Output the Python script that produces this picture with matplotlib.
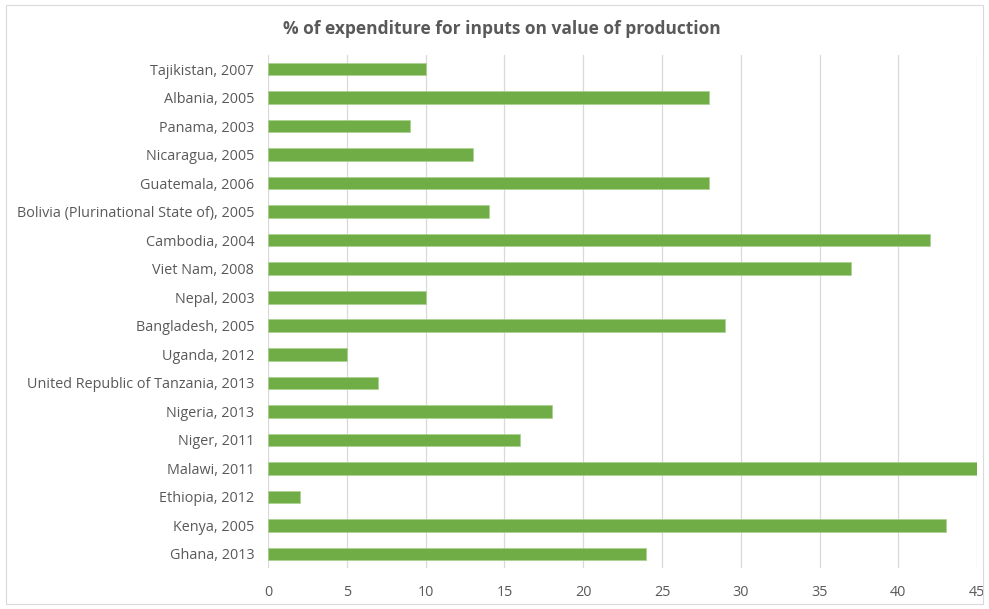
import matplotlib
matplotlib.use("Agg")
import matplotlib.pyplot as plt
from matplotlib.patches import Rectangle

# data, read top to bottom as shown
countries = ['Tajikistan, 2007', 'Albania, 2005', 'Panama, 2003', 'Nicaragua, 2005',
             'Guatemala, 2006', 'Bolivia (Plurinational State of), 2005', 'Cambodia, 2004',
             'Viet Nam, 2008', 'Nepal, 2003', 'Bangladesh, 2005', 'Uganda, 2012',
             'United Republic of Tanzania, 2013', 'Nigeria, 2013', 'Niger, 2011',
             'Malawi, 2011', 'Ethiopia, 2012', 'Kenya, 2005', 'Ghana, 2013']
values = [10, 28, 9, 13, 28, 14, 42, 37, 10, 29, 5, 7, 18, 16, 45, 2, 43, 24]
xticks = [0, 5, 10, 15, 20, 25, 30, 35, 40, 45]

plt.rcParams['font.family'] = ['Open Sans', 'DejaVu Sans']

fig = plt.figure(figsize=(9.89, 6.09), dpi=100)
ax = fig.add_axes([0.271, 0.067, 0.717, 0.843])

ypos = list(range(len(countries)))[::-1]
ax.barh(ypos, values, height=0.44, color='#70AD47', edgecolor='#A9D18E', linewidth=0.5, zorder=3)

ax.set_xlim(0, 45)
ax.set_ylim(-0.5, len(countries) - 0.5)
ax.set_xticks(xticks)
ax.set_yticks(ypos)
ax.set_yticklabels(countries)
ax.tick_params(axis='both', length=0, labelsize=10.4, colors='#595959')
ax.tick_params(axis='x', pad=12)
ax.tick_params(axis='y', pad=10)
ax.grid(axis='x', color='#D9D9D9', linewidth=0.9, zorder=0)
for s in ax.spines.values():
    s.set_visible(False)

fig.text(0.507, 0.952, '% of expenditure for inputs on value of production',
         ha='center', va='center', fontsize=12.5, fontweight='bold', color='#595959')

# thin chart border like the Excel chart area
fig.patches.append(Rectangle((0.006, 0.009), 0.988, 0.982, transform=fig.transFigure,
                             fill=False, edgecolor='#D9D9D9', linewidth=0.8))

fig.savefig('out.png', dpi=100)
